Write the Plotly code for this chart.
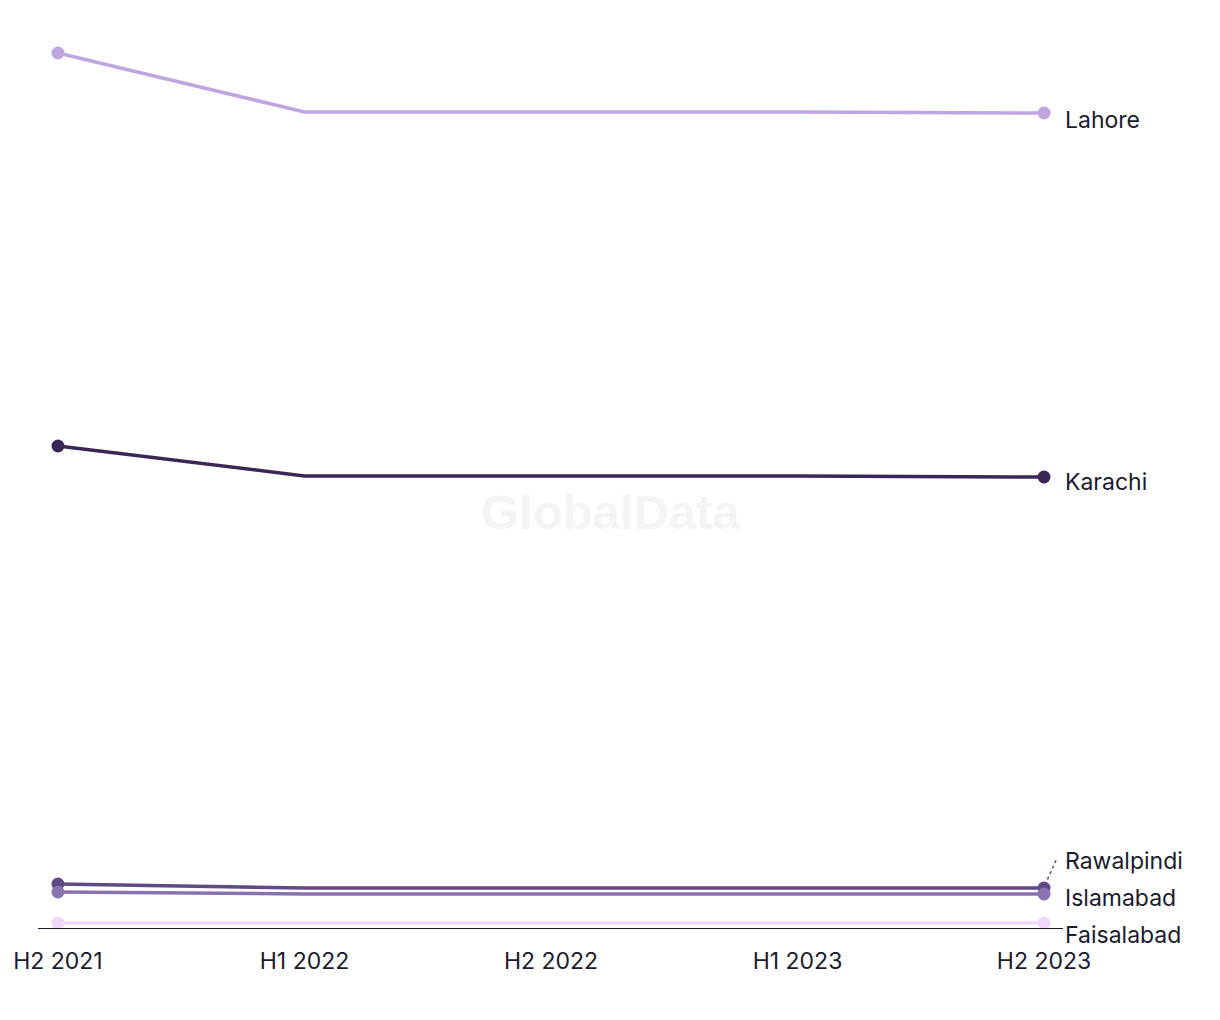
import plotly.graph_objects as go

periods = ["H2 2021", "H1 2022", "H2 2022", "H1 2023", "H2 2023"]
cities = ["Lahore", "Karachi", "Rawalpindi", "Islamabad", "Faisalabad"]
lahore = [876, 817, 817, 817, 816]
karachi = [483, 453, 453, 453, 452]
rawalpindi = [45, 41, 41, 41, 41]
islamabad = [37, 35, 35, 35, 35]
faisalabad = [6, 6, 6, 6, 6]
colors = ["#bfa5e0", "#3a2758", "#5e4a85", "#8a72b0", "#f0d8fa"]

series = [lahore, karachi, rawalpindi, islamabad, faisalabad]
label_shift = [-7, -5, 27, -4, -12]

fig = go.Figure()
xi = list(range(len(periods)))
for name, vals, col in zip(cities, series, colors):
    fig.add_trace(go.Scatter(
        x=xi, y=vals, mode="lines", name=name,
        line=dict(color=col, width=3.5), hoverinfo="skip", showlegend=False))
    fig.add_trace(go.Scatter(
        x=[xi[0], xi[-1]], y=[vals[0], vals[-1]], mode="markers",
        marker=dict(color=col, size=13), hoverinfo="skip", showlegend=False))

for name, vals, sh in zip(cities, series, label_shift):
    fig.add_annotation(x=xi[-1], y=vals[-1], text=name, showarrow=False,
                       xanchor="left", yanchor="middle", xshift=19, yshift=sh,
                       font=dict(size=23, color="#1b1a2e", family="Inter"))

# leader line for Rawalpindi
fig.add_shape(type="line", xref="x", yref="y",
              xsizemode="pixel", ysizemode="pixel",
              xanchor=xi[-1], yanchor=rawalpindi[-1],
              x0=1, x1=13, y0=3, y1=30,
              line=dict(color="#5e4a85", width=1.5, dash="dot"))

# baseline
fig.add_shape(type="line", xref="paper", yref="y", x0=0, x1=1, y0=0, y1=0,
              line=dict(color="#1b1a2e", width=1.8))

fig.add_annotation(x=0.5, y=0.5, xref="paper", yref="paper", text="<b>GlobalData</b>",
                   showarrow=False, font=dict(size=49, color="#f4f4f4", family="Liberation Sans"),
                   xshift=60, yshift=-37)

fig.update_layout(
    width=1220, height=1020,
    margin=dict(l=38, r=157, t=20, b=91),
    paper_bgcolor="white", plot_bgcolor="white",
    xaxis=dict(range=[-0.081, 4.077], tickvals=xi, ticktext=periods,
               showgrid=False, zeroline=False, showline=False, ticks="",
               tickfont=dict(size=23, color="#1b1a2e", family="Inter"),
               ticklabelstandoff=16),
    yaxis=dict(range=[0, 909], visible=False, showgrid=False, zeroline=False),
)

fig.write_html("out.html")
